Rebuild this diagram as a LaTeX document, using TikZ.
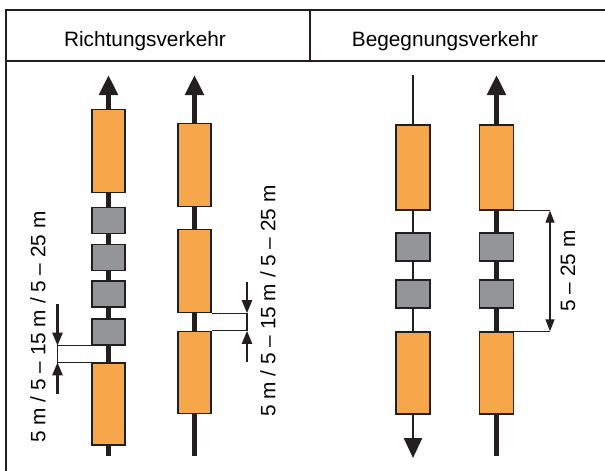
\documentclass[tikz,border=0pt]{standalone}
\usepackage{fontspec}
\setmainfont{Liberation Sans}
\usetikzlibrary{arrows.meta}
\usetikzlibrary{positioning}
\usetikzlibrary{calc}
\definecolor{wagonorange}{HTML}{F8A64A}
\definecolor{couplergray}{HTML}{939598}
\definecolor{inkblack}{HTML}{231F20}
\tikzset{
    frame/.style={draw=inkblack, line width=1.4pt},
    wagon/.style={draw=inkblack, fill=wagonorange, line width=1.4pt, inner sep=0pt,
        minimum width=33pt, minimum height=83pt},
    coupler/.style={draw=inkblack, fill=couplergray, line width=1.4pt, inner sep=0pt,
        minimum width=33pt, minimum height=26pt},
    track/.style={draw=inkblack, line width=5pt},
    thintrack/.style={draw=inkblack, line width=2.8pt},
    headtip/.style={-{Triangle[width=18pt,length=20pt]}},
    dimline/.style={draw=inkblack, line width=1.1pt},
    dimarrow/.style={draw=inkblack, line width=2.4pt, -{Triangle[width=10pt,length=13pt]}},
    dimboth/.style={draw=inkblack, line width=1.3pt, {Triangle[width=9pt,length=12pt]}-{Triangle[width=9pt,length=12pt]}},
    label/.style={font=\fontsize{20.8}{24}\selectfont, inner sep=0pt}
}
\begin{document}
\begin{tikzpicture}[x=1pt,y=-1pt]
	\useasboundingbox (0,0) rectangle (605,471);
	% header
	\draw[frame] (6,471) -- (6,10) -- (605,10);
	\draw[frame] (6,61) -- (605,61);
	\draw[frame] (310,10) -- (310,61);
	\node[label, anchor=base] (richtung) at (145,46) {Richtungsverkehr};
	\node[label, anchor=base] (begegnung) at (445,46) {Begegnungsverkehr};
	% track ends
	\coordinate (c1top) at (108.5,75);   \coordinate (c1bot) at (108.5,456);
	\coordinate (c2top) at (194.5,75);   \coordinate (c2bot) at (194.5,456);
	\coordinate (c3top) at (413,75);     \coordinate (c3bot) at (413,458);
	\coordinate (c4top) at (496.5,75);   \coordinate (c4bot) at (496.5,456);
	\draw[track,headtip] (c1bot) -- (c1top);
	\draw[track,headtip] (c2bot) -- (c2top);
	\draw[thintrack,headtip] (c3top) -- (c3bot);
	\draw[track,headtip] (c4bot) -- (c4top);
	% Richtungsverkehr, first train
	\node[wagon] (c1o1) at (108.5,151) {};
	\node[coupler] (c1g1) at (108.5,220.5) {};
	\node[coupler] (c1g2) at (108.5,257.5) {};
	\node[coupler] (c1g3) at (108.5,294) {};
	\node[coupler] (c1g4) at (108.5,332) {};
	\node[wagon, minimum height=82pt] (c1o2) at (108.5,404) {};
	% Richtungsverkehr, second train
	\node[wagon] (c2o1) at (194.5,165) {};
	\node[wagon] (c2o2) at (194.5,271) {};
	\node[wagon, minimum height=82pt] (c2o3) at (194.5,372.5) {};
	% Begegnungsverkehr
	\node[wagon, minimum width=34pt, minimum height=85pt] (c3o1) at (413,167.5) {};
	\node[coupler, minimum width=34pt, minimum height=28pt] (c3g1) at (413,247) {};
	\node[coupler, minimum width=34pt, minimum height=28pt] (c3g2) at (413,294) {};
	\node[wagon, minimum width=34pt, minimum height=82pt] (c3o2) at (413,373) {};
	\node[wagon, minimum width=34pt, minimum height=85pt] (c4o1) at (496.5,167.5) {};
	\node[coupler, minimum width=34pt, minimum height=28pt] (c4g1) at (496.5,247) {};
	\node[coupler, minimum width=34pt, minimum height=28pt] (c4g2) at (496.5,294) {};
	\node[wagon, minimum width=34pt, minimum height=82pt] (c4o2) at (496.5,373) {};
	% dimensions
	\coordinate (dl) at (57.5,0);
	\draw[dimline] (c1g4.south west) -- (c1g4.south west -| dl) -- (c1o2.north west -| dl) -- (c1o2.north west);
	\draw[dimarrow] ($(c1g4.south west -| dl)+(0,-42)$) -- (c1g4.south west -| dl);
	\draw[dimarrow] ($(c1o2.north west -| dl)+(0,32)$) -- (c1o2.north west -| dl);
	\node[label, rotate=90] (dimtextl) at (38,327) {5 m / 5 -- 15 m / 5 -- 25 m};
	\coordinate (dm) at (247,0);
	\draw[dimline] (c2o2.south east) -- (c2o2.south east -| dm) -- (c2o3.north east -| dm) -- (c2o3.north east);
	\draw[dimarrow] ($(c2o2.south east -| dm)+(0,-31)$) -- (c2o2.south east -| dm);
	\draw[dimarrow] ($(c2o3.north east -| dm)+(0,31)$) -- (c2o3.north east -| dm);
	\node[label, rotate=90] (dimtextm) at (268,301) {5 m / 5 -- 15 m / 5 -- 25 m};
	\coordinate (dr) at (550,0);
	\draw[dimline] (c4o1.south east) -- (c4o1.south east -| dr);
	\draw[dimline] (c4o2.north east) -- (c4o2.north east -| dr);
	\draw[dimboth] (c4o1.south east -| dr) -- (c4o2.north east -| dr);
	\node[label, rotate=90] (dimtextr) at (568,271) {5 -- 25 m};
\end{tikzpicture}
\end{document}
